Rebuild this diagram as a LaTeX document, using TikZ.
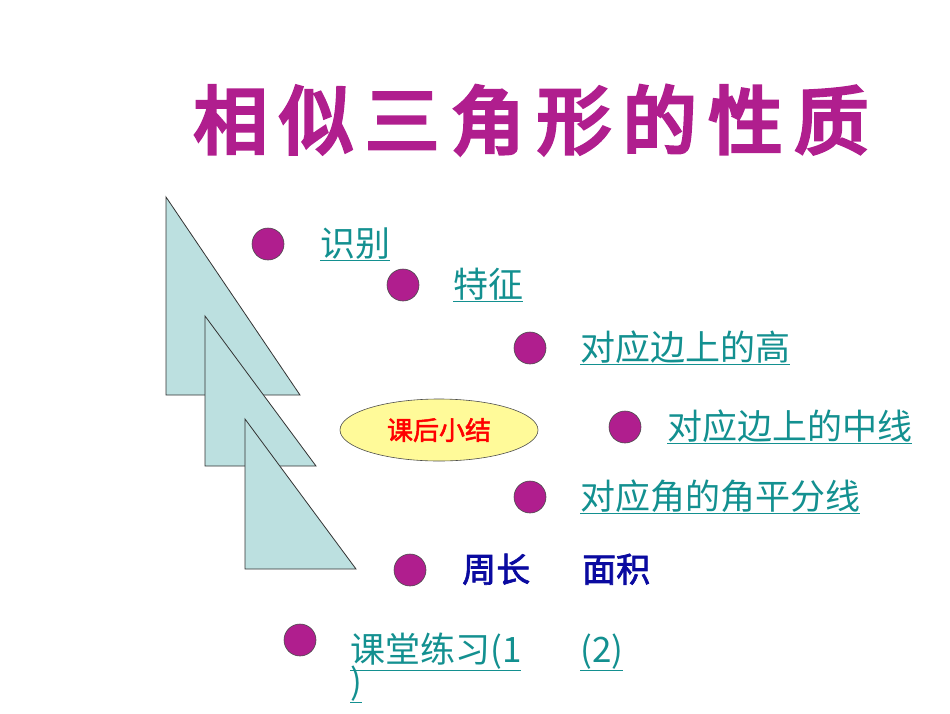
\documentclass[tikz,border=0pt]{standalone}
\usepackage{fontspec}
\newfontfamily\cjk{Noto Sans CJK SC}
\newfontfamily\cjkb[FakeBold=2]{Noto Sans CJK SC}
\newfontfamily\cjkt[FakeBold=5,LetterSpace=16]{Noto Sans CJK SC}
\usetikzlibrary{shapes.geometric}
\definecolor{teal2}{HTML}{139090}
\definecolor{mag}{HTML}{B01E8E}
\definecolor{tri}{HTML}{BCE0E0}
\definecolor{navy}{HTML}{0A0AA0}
\begin{document}
\begin{tikzpicture}[x=1pt,y=-1pt,
  dot/.style={circle,draw=black!70,line width=0.6pt,fill=mag,minimum size=32pt,inner sep=0pt},
  lnk/.style={anchor=base west,inner sep=0pt,text=teal2,font=\cjk\fontsize{35}{37}\selectfont},
  tribox/.style={fill=tri,draw=black!80,line width=0.8pt}]
\useasboundingbox (0,0) rectangle (950,713);
\node[inner sep=0pt,text=mag,font=\cjkt\fontsize{74}{78}\selectfont] (title) at (531,120) {相似三角形的性质};
\draw[tribox] (166,197) -- (166,395) -- (300,395) -- cycle;
\draw[tribox] (205,316) -- (205,466) -- (316,466) -- cycle;
\draw[tribox] (245,419) -- (245,569) -- (356,569) -- cycle;
\node[dot] (d1) at (268,244) {};
\node[dot] (d2) at (403,285) {};
\node[dot] (d3) at (530,348) {};
\node[dot] (d4) at (625,427) {};
\node[dot] (d5) at (530,497) {};
\node[dot] (d6) at (410,570) {};
\node[dot] (d7) at (300,640) {};
\node[lnk] (t1) at (320,256) {\underline{识别}};
\node[lnk] (t2) at (453,297) {\underline{特征}};
\node[lnk] (t3) at (580,360) {\underline{对应边上的高}};
\node[lnk] (t4) at (667,439) {\underline{对应边上的中线}};
\node[lnk] (t5) at (580,509) {\underline{对应角的角平分线}};
\node[anchor=base west,inner sep=0pt,text=navy,font=\cjkb\fontsize{34}{36}\selectfont] (t6) at (462,582) {周长};
\node[anchor=base west,inner sep=0pt,text=navy,font=\cjkb\fontsize{34}{36}\selectfont] (t7) at (582,582) {面积};
\node[lnk] (t8) at (350,662) {\underline{课堂练习(1}};
\node[lnk] (t9) at (350,694) {\underline{)}};
\node[lnk] (t10) at (580,662) {\underline{(2)}};
\node[ellipse,draw=black!70,line width=0.6pt,fill=yellow!40!white,minimum width=198pt,minimum height=62pt,text=red,font=\cjkb\fontsize{26}{28}\selectfont] (e) at (439,430) {课后小结};
\end{tikzpicture}
\end{document}
